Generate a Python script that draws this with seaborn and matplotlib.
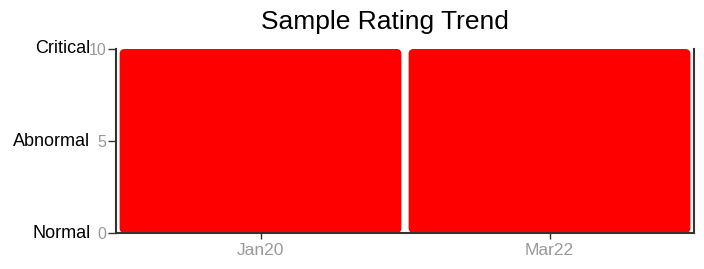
import matplotlib
matplotlib.use("Agg")
import matplotlib.pyplot as plt
from matplotlib.patches import FancyBboxPatch
import seaborn as sns
import pandas as pd

periods = ["Jan20", "Mar22"]
ratings = [10, 10]
ytick_values = [0, 5, 10]
ytick_numbers = ["0", "5", "10"]
rating_names = ["Normal", "Abnormal", "Critical"]
title = "Sample Rating Trend"

sns.set_style("white")
plt.rcParams['font.family'] = ['Liberation Sans', 'DejaVu Sans']
narrow = ['Liberation Sans Narrow', 'Liberation Sans', 'DejaVu Sans']

fig = plt.figure(figsize=(7.04, 2.69), dpi=100)
ax = fig.add_axes([116/704, 1-233/269, (694-116)/704, (233-49)/269])

df = pd.DataFrame({"period": periods, "rating": ratings})
sns.barplot(data=df, x="period", y="rating", color="#ff0000", saturation=1,
            width=0.975, ax=ax, linewidth=0)

ax.set_xlim(-0.5, 1.5)
ax.set_ylim(0, 10)

# rounded bar corners
x0, y0 = ax.transData.transform((0, 0))
x1, y1 = ax.transData.transform((1, 1))
px_x = x1 - x0
px_y = y1 - y0
radius_px = 5
for p in list(ax.patches):
    bx, by = p.get_x(), p.get_y()
    bw, bh = p.get_width(), p.get_height()
    fc = p.get_facecolor()
    p.remove()
    fb = FancyBboxPatch((bx, by), bw, bh,
                        boxstyle=f"round,pad=0,rounding_size={radius_px/px_x}",
                        mutation_aspect=px_x / px_y,
                        facecolor=fc, edgecolor="none", zorder=1)
    ax.add_patch(fb)

ax.set_xlabel("")
ax.set_ylabel("")
ax.set_yticks(ytick_values)
ax.set_yticklabels(ytick_numbers, color="#999999", fontsize=11.5, family=narrow)
ax.tick_params(axis="x", colors="#333333", labelcolor="#999999", labelsize=12.5,
               length=4, width=1, direction="out", bottom=True, pad=3)
ax.tick_params(axis="y", colors="#333333", labelcolor="#999999",
               length=6, width=1, direction="out", left=True, pad=1)
for lab in ax.get_xticklabels():
    lab.set_family(narrow)

for s in ["left", "bottom", "right"]:
    ax.spines[s].set_visible(True)
    ax.spines[s].set_color("#333333")
    ax.spines[s].set_linewidth(1.5)
ax.spines["top"].set_visible(False)

for v, name in zip(ytick_values, rating_names):
    ax.annotate(name, xy=(0, v), xycoords=("axes fraction", "data"),
                xytext=(-18.5, 0), textcoords="offset points",
                ha="right", va="center", fontsize=13, color="black")

fig.text(385/704, 1-22/269, title, ha="center", va="center", fontsize=19, color="black")

fig.savefig("out.png", dpi=100)
